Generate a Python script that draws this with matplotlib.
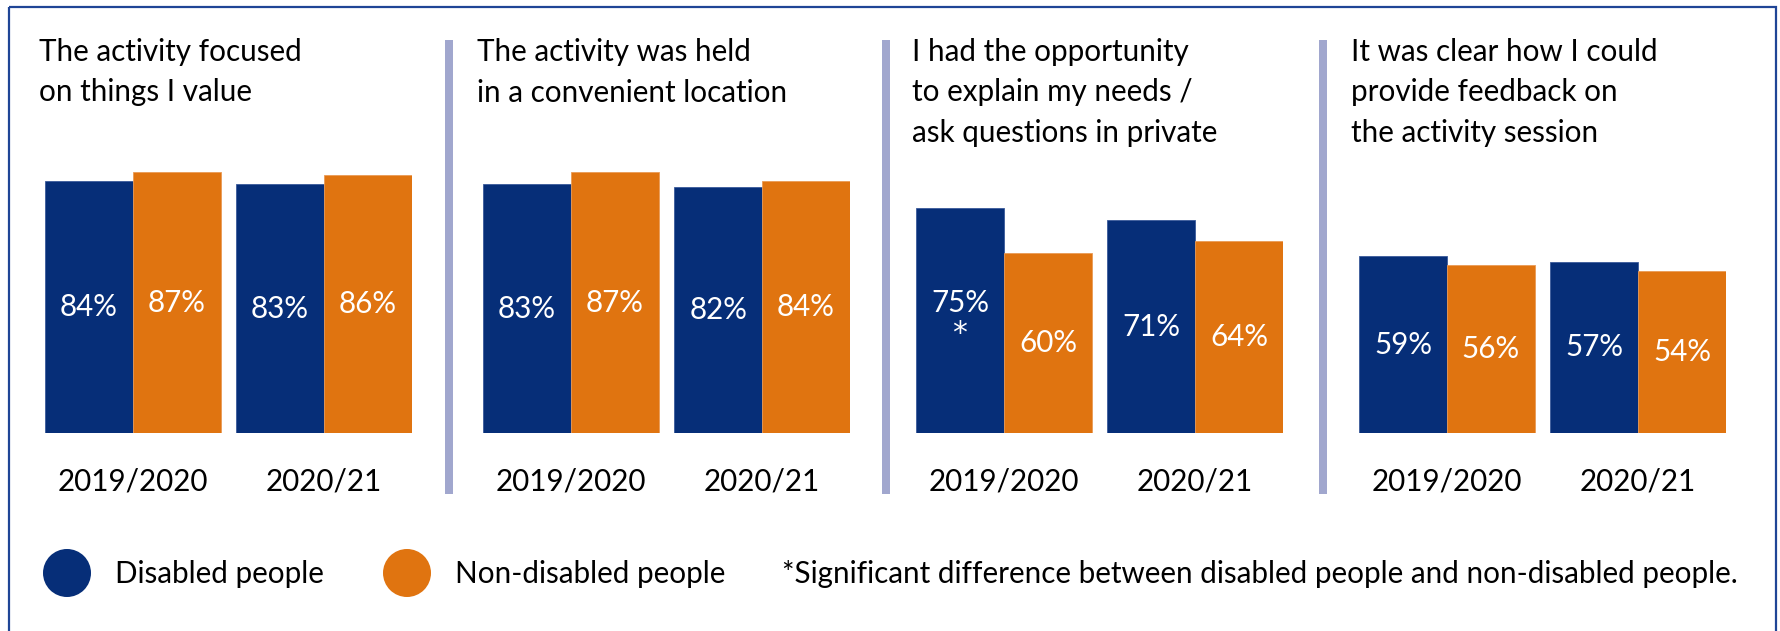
import matplotlib
matplotlib.use("Agg")
import matplotlib.pyplot as plt
from matplotlib.patches import Circle, Rectangle

# ---- data ----
periods = ["2019/2020", "2020/21"]
titles = [
    ["The activity focused", "on things I value"],
    ["The activity was held", "in a convenient location"],
    ["I had the opportunity", "to explain my needs /", "ask questions in private"],
    ["It was clear how I could", "provide feedback on", "the activity session"],
]
disabled = [[84, 83], [83, 82], [75, 71], [59, 57]]
non_disabled = [[87, 86], [87, 84], [60, 64], [56, 54]]
disabled_marks = [["", ""], ["", ""], ["*", ""], ["", ""]]
legend_labels = ["Disabled people", "Non-disabled people"]
footnote = "*Significant difference between disabled people and non-disabled people."

# ---- style ----
BLUE = "#062E78"
ORANGE = "#E07410"
DIVIDER = "#A1A7CE"
FRAME = "#1F4596"
FONT = "Lato"
FS = 21.3
plt.rcParams["font.family"] = [FONT, "DejaVu Sans"]

W, H = 1781, 631
fig = plt.figure(figsize=(W / 100, H / 100), dpi=100)

# overlay in pixel coordinates for frame, titles, dividers and legend
ov = fig.add_axes([0, 0, 1, 1])
ov.set_xlim(0, W)
ov.set_ylim(H, 0)
ov.axis("off")

ov.add_patch(Rectangle((9, 7), 1767, 640, fill=False, edgecolor=FRAME, lw=1.6))

panel_left = [45, 483, 916, 1359]
title_x = [39, 477, 912, 1351]
divider_x = [449, 886, 1323]
base_px, top_px = 433, 133
bw = 0.46

for x in divider_x:
    ov.add_patch(Rectangle((x - 4, 40), 8, 454, facecolor=DIVIDER, edgecolor="none"))

for i in range(4):
    for j, line in enumerate(titles[i]):
        ov.text(title_x[i], 61 + 40.5 * j, line, fontsize=FS, color="black",
                ha="left", va="baseline")

    width_px = 367
    ax = fig.add_axes([panel_left[i] / W, (H - base_px) / H,
                       width_px / W, (base_px - top_px) / H])
    ax.set_xlim(-bw, 1 + bw)
    ax.set_ylim(0, 100)
    ax.axis("off")
    xs = [0, 1]
    ax.bar([x - bw / 2 for x in xs], disabled[i], width=bw, color=BLUE,
           edgecolor="#3A5A9A", linewidth=0.6)
    ax.bar([x + bw / 2 for x in xs], non_disabled[i], width=bw, color=ORANGE,
           edgecolor="#EA9A55", linewidth=0.6)
    for k, x in enumerate(xs):
        d = disabled[i][k]
        mark = disabled_marks[i][k]
        if mark:
            ax.text(x - bw / 2, d / 2 + 6, f"{d}%", color="white", fontsize=FS,
                    ha="center", va="center")
            ax.text(x - bw / 2, d / 2 - 4.5, mark, color="white", fontsize=FS,
                    family="DejaVu Sans", ha="center", va="center")
        else:
            ax.text(x - bw / 2, d / 2, f"{d}%", color="white", fontsize=FS,
                    ha="center", va="center")
        n = non_disabled[i][k]
        ax.text(x + bw / 2, n / 2, f"{n}%", color="white", fontsize=FS,
                ha="center", va="center")
        ax.text(x, -19, periods[k], color="black", fontsize=FS,
                ha="center", va="baseline", clip_on=False)

# legend
ov.add_patch(Circle((67, 573), 24, facecolor=BLUE, edgecolor="none"))
ov.add_patch(Circle((407, 573), 24, facecolor=ORANGE, edgecolor="none"))
ov.text(115, 583, legend_labels[0], fontsize=FS, ha="left", va="baseline")
ov.text(455, 583, legend_labels[1], fontsize=FS, ha="left", va="baseline")
ov.text(782, 583, footnote, fontsize=FS, ha="left", va="baseline")

fig.savefig("out.png", dpi=100, facecolor="white")
